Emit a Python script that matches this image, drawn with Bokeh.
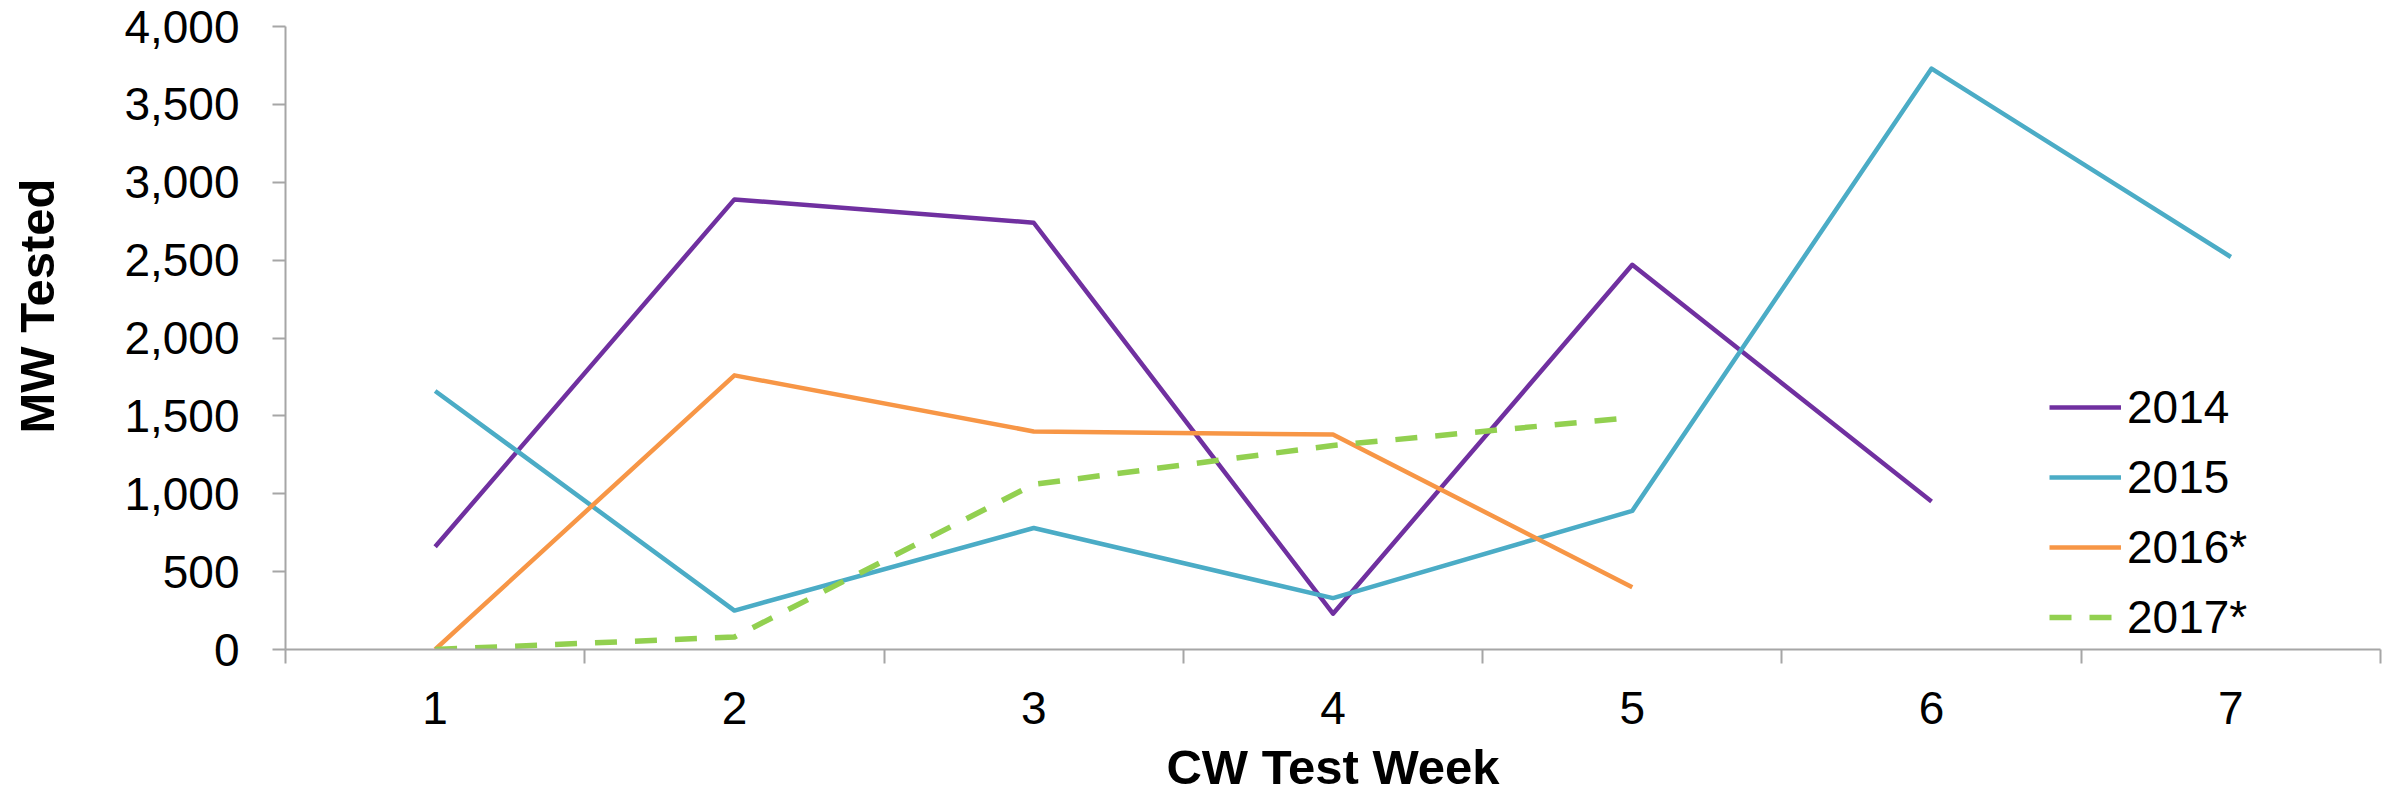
import math
from bokeh.plotting import figure
from bokeh.models import FixedTicker, NumeralTickFormatter, Legend, LegendItem, Label, Range1d
from bokeh.embed import file_html
from bokeh.resources import INLINE

# ---- data ----
weeks = [1, 2, 3, 4, 5, 6, 7]
y_ticks = [0, 500, 1000, 1500, 2000, 2500, 3000, 3500, 4000]
series_names = ["2014", "2015", "2016*", "2017*"]
mw_2014 = [660, 2890, 2740, 230, 2470, 950]
mw_2015 = [1660, 250, 780, 330, 890, 3730, 2520]
mw_2016 = [0, 1760, 1400, 1380, 400]
mw_2017 = [0, 80, 1060, 1310, 1490]
x_title = "CW Test Week"
y_title = "MW Tested"

colors = ["#7030A0", "#4BACC6", "#F79646", "#92D050"]
FONT = "Liberation Sans"
AXIS_COLOR = "#A6A6A6"

p = figure(width=2387, height=796, x_range=Range1d(0.5, 7.5), y_range=Range1d(0, 4000),
           output_backend="svg", toolbar_location=None,
           min_border_left=285, min_border_top=26, min_border_bottom=139, min_border_right=7)
p.outline_line_color = None
p.xgrid.visible = False
p.ygrid.visible = False
p.background_fill_color = "white"
p.border_fill_color = "white"

# y axis
yax = p.yaxis[0]
yax.ticker = FixedTicker(ticks=y_ticks)
yax.formatter = NumeralTickFormatter(format="0,0")
yax.axis_line_color = AXIS_COLOR
yax.axis_line_width = 2
yax.major_tick_line_color = AXIS_COLOR
yax.major_tick_line_width = 2
yax.major_tick_out = 13
yax.major_tick_in = 0
yax.minor_tick_line_color = None
yax.major_label_text_font = FONT
yax.major_label_text_font_size = "46px"
yax.major_label_text_color = "black"
yax.major_label_standoff = 33

# x axis
boundaries = [w - 0.5 for w in weeks] + [weeks[-1] + 0.5]
xax = p.xaxis[0]
xax.ticker = FixedTicker(ticks=weeks, minor_ticks=boundaries)
xax.axis_line_color = AXIS_COLOR
xax.axis_line_width = 2
xax.major_tick_line_color = None
xax.major_tick_out = 14
xax.major_tick_in = 0
xax.minor_tick_line_color = AXIS_COLOR
xax.minor_tick_line_width = 2
xax.minor_tick_out = 14
xax.minor_tick_in = 0
xax.major_label_text_font = FONT
xax.major_label_text_font_size = "46px"
xax.major_label_text_color = "black"
xax.major_label_standoff = 28
xax.axis_label = x_title
xax.axis_label_text_font = FONT
xax.axis_label_text_font_style = "bold"
xax.axis_label_text_font_size = "49px"
xax.axis_label_text_color = "black"
xax.axis_label_standoff = 13

# y title as a screen-positioned label in the left panel
yt = Label(text=y_title, x=-31, y=216, x_units="screen", y_units="screen",
           angle=math.pi / 2, text_align="left", text_baseline="alphabetic",
           text_font=FONT, text_font_style="bold", text_font_size="49px", text_color="black")
p.add_layout(yt, "left")

# lines
data = [mw_2014, mw_2015, mw_2016, mw_2017]
widths = [4.5, 4.5, 4.5, 5.5]
renderers = []
for vals, c, w, name in zip(data, colors, widths, series_names):
    kw = {}
    if name == "2017*":
        kw["line_dash"] = "22 18"
    r = p.line(weeks[:len(vals)], vals, line_color=c, line_width=w, line_join="round", **kw)
    renderers.append(r)

legend = Legend(items=[LegendItem(label=n, renderers=[r]) for n, r in zip(series_names, renderers)],
                location=(1764, 5), glyph_width=72, glyph_height=40, label_standoff=6,
                spacing=16, padding=0, margin=0, border_line_color=None, background_fill_alpha=0,
                label_text_font=FONT, label_text_font_size="46px", label_text_color="black")
p.add_layout(legend)

open("out.html", "w").write(file_html(p, INLINE))
